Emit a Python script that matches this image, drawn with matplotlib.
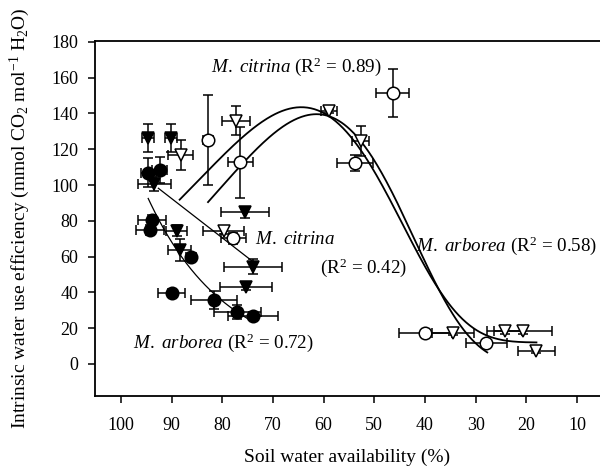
import numpy as np
import matplotlib
matplotlib.use("Agg")
import matplotlib.pyplot as plt

plt.rcParams['font.family'] = ['Liberation Serif', 'DejaVu Serif']
plt.rcParams['mathtext.fontset'] = 'custom'
plt.rcParams['mathtext.rm'] = 'Liberation Serif'
plt.rcParams['mathtext.it'] = 'Liberation Serif:italic'

# ---- data (soil water availability %, iWUE) ----
fc_x = [94.6, 92.3, 93.9, 94.3, 86.1, 90.0, 81.6, 77.0, 73.9]
fc_y = [106.9, 108.4, 80.5, 74.9, 59.6, 39.9, 35.8, 29.2, 26.8]
fc_xe = [1.5, 1.5, 2.8, 2.8, 1.0, 2.6, 4.6, 4.6, 5.0]
fc_ye = [8.0, 7.0, 3.0, 3.0, 2.0, 2.0, 5.0, 4.0, 2.0]

ft_x = [94.6, 90.1, 93.4, 75.5, 89.0, 88.4, 73.9, 75.3]
ft_y = [126.2, 126.2, 100.6, 84.8, 74.5, 63.7, 54.4, 43.2]
ft_xe = [1.2, 1.2, 3.2, 4.8, 2.0, 2.3, 5.7, 5.1]
ft_ye = [7.7, 7.7, 4.0, 3.0, 3.0, 6.0, 4.0, 2.0]

oc_x = [82.8, 76.4, 77.8, 46.4, 53.8, 39.9, 27.9]
oc_y = [125.2, 112.7, 70.3, 151.3, 112.5, 17.5, 11.9]
oc_xe = [1.0, 2.5, 2.5, 3.2, 3.6, 5.3, 4.0]
oc_ye = [25.0, 20.0, 3.0, 13.3, 4.5, 1.0, 1.0]

ot_x = [88.2, 77.3, 79.7, 59.0, 52.7, 34.5, 24.3, 20.6, 18.0]
ot_y = [116.8, 136.0, 74.5, 141.4, 124.7, 17.5, 18.6, 18.6, 7.4]
ot_xe = [2.5, 2.7, 4.0, 1.6, 1.6, 4.2, 3.5, 5.7, 3.7]
ot_ye = [8.5, 8.2, 2.0, 1.0, 8.5, 1.5, 2.0, 2.0, 1.0]

# fitted curves (parameters)
# log-normal peak fits: y = y0 + a*exp(-0.5*(ln(x/x0)/b)^2)
fitH = dict(y0=12.0, a=131.5, x0=64.4, b=0.317, xmin=18.0, xmax=88.4)
fitL = dict(y0=0.0, a=139.6, x0=61.4, b=0.321, xmin=27.7, xmax=82.8)
# linear fit (M. citrina, early)
lin_c = dict(x1=92.6, y1=98.2, x2=73.9, y2=57.1)
# exponential fit (M. arborea, early): y = A*exp(k*x)
exp_a = dict(A=0.1797, k=0.066, xmin=73.9, xmax=94.6)

fig = plt.figure(figsize=(6.0, 4.72), dpi=100)
ax = fig.add_axes([95/600, 1-396/472, 505/600, (396-41)/472])

ekw = dict(ecolor='black', elinewidth=1.1, capsize=3.4, capthick=1.1, linestyle='none',
           markeredgecolor='black', markeredgewidth=1.1)

def lognorm(p, x):
    return p['y0'] + p['a']*np.exp(-0.5*(np.log(x/p['x0'])/p['b'])**2)

for p in (fitH, fitL):
    xs = np.linspace(p['xmin'], p['xmax'], 300)
    ax.plot(xs, lognorm(p, xs), color='black', lw=1.3, zorder=1)

ax.plot([lin_c['x1'], lin_c['x2']], [lin_c['y1'], lin_c['y2']], color='black', lw=0.9, zorder=1)
xs = np.linspace(exp_a['xmin'], exp_a['xmax'], 200)
ax.plot(xs, exp_a['A']*np.exp(exp_a['k']*xs), color='black', lw=0.9, zorder=1)

ms = 9
ax.errorbar(ot_x, ot_y, xerr=ot_xe, yerr=ot_ye, marker='v', markersize=ms,
            markerfacecolor='white', zorder=3, **ekw)
ax.errorbar(oc_x, oc_y, xerr=oc_xe, yerr=oc_ye, marker='o', markersize=ms,
            markerfacecolor='white', zorder=3, **ekw)
ax.errorbar(ft_x, ft_y, xerr=ft_xe, yerr=ft_ye, marker='v', markersize=ms,
            markerfacecolor='black', zorder=3, **ekw)
ax.errorbar(fc_x, fc_y, xerr=fc_xe, yerr=fc_ye, marker='o', markersize=ms,
            markerfacecolor='black', zorder=3, **ekw)

fs = 13.7
ax.text(82.2, 166, r"$\mathit{M.\ citrina}$ (R$^2$ = 0.89)", fontsize=fs, ha='left', va='center')
ax.text(41.8, 66, r"$\mathit{M.\ arborea}$ (R$^2$ = 0.58)", fontsize=fs, ha='left', va='center')
ax.text(73.6, 69.3, r"$\mathit{M.\ citrina}$", fontsize=fs, ha='left', va='center')
ax.text(60.7, 53.7, r"(R$^2$ = 0.42)", fontsize=fs, ha='left', va='center')
ax.text(97.6, 11.7, r"$\mathit{M.\ arborea}$ (R$^2$ = 0.72)", fontsize=fs, ha='left', va='center')

ax.set_xlim(105.1, 5.46)
ax.set_ylim(-17.9, 180.5)
ax.set_xticks([100, 90, 80, 70, 60, 50, 40, 30, 20, 10])
ax.set_yticks(np.arange(0, 181, 20))
ax.tick_params(direction='out', length=5, width=1.1, labelsize=13, pad=7)
ax.tick_params(axis='x', pad=10)
for s in ('left', 'bottom', 'top'):
    ax.spines[s].set_linewidth(1.3)
ax.spines['right'].set_visible(False)

ax.set_xlabel("Soil water availability (%)", fontsize=14, labelpad=11)
ax.set_ylabel("Intrinsic water use efficiency (mmol CO$_2$ mol$^{-1}$ H$_2$O)", fontsize=14, labelpad=14)

fig.savefig("out.png", dpi=100)
